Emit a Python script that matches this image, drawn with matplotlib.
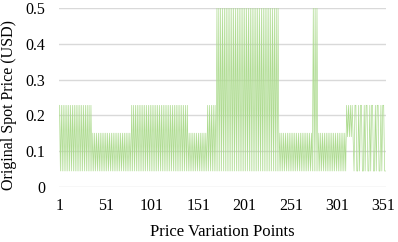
import numpy as np
import matplotlib
matplotlib.use("Agg")
import matplotlib.pyplot as plt

plt.rcParams['font.family'] = ['Liberation Serif', 'DejaVu Serif']

seg1 = [.228,.044,.228,.044,.228,.044,.228,.044,.228,.044,
        .228,.044,.228,.044,.228,.044,.228,.044,.228,.044,
        .228,.044,.228,.044,.228,.044,.228,.044,.228,.044,
        .228,.044,.228,.044,.228]
seg2 = [.044,.15,.044,.15,.044,.15,.044,.15,.044,.15,
        .044,.15,.044,.15,.044,.15,.044,.15,.044,.15,
        .044,.15,.044,.15,.044,.15,.044,.15,.044,.15,
        .044,.15,.044,.15,.044,.15,.044,.15,.044,.15,
        .044,.15]
seg3 = [.044,.228,.044,.228,.044,.228,.044,.228,.044,.228,
        .044,.228,.044,.228,.044,.228,.044,.228,.044,.228,
        .044,.228,.044,.228,.044,.228,.044,.228,.044,.228,
        .044,.228,.044,.228,.044,.228,.044,.228,.044,.228,
        .044,.228,.044,.228,.044,.228,.044,.228,.044,.228,
        .044,.228,.044,.228,.044,.228,.044,.228,.044,.228,
        .044,.228]
seg4 = [.044,.15,.044,.15,.044,.15,.044,.15,.044,.15,
        .044,.15,.044,.15,.044,.15,.044,.15,.044,.15,
        .044]
seg5 = [.228,.044,.228,.044,.228,.044,.228,.044,.228,.044]
seg6 = [.5,.044,.5,.044,.5,.044,.5,.044,.5,.044,
        .5,.044,.5,.044,.5,.044,.5,.044,.5,.044,
        .5,.044,.5,.044,.5,.044,.5,.044,.5,.044,
        .5,.044,.5,.044,.5,.044,.5,.044,.5,.044,
        .5,.044,.5,.044,.5,.044,.5,.044,.5,.044,
        .5,.044,.5,.044,.5,.044,.5,.044,.5,.044,
        .5,.044,.5,.044,.5,.044,.5]
seg7 = [.044,.15,.044,.15,.044,.15,.044,.15,.044,.15,
        .044,.15,.044,.15,.044,.15,.044,.15,.044,.15,
        .044,.15,.044,.15,.044,.15,.044,.15,.044,.15,
        .044,.15,.044,.15,.044,.15,.044]
seg8 = [.5,.044,.5,.044,.5]
seg9 = [.044,.15,.044,.15,.044,.15,.044,.15,.044,.15,
        .044,.15,.044,.15,.044,.15,.044,.15,.044,.15,
        .044,.15,.044,.15,.044,.15,.044,.15,.044,.15,
        .044]
seg10 = [.228,.14,.228,.14,.228,.14,.228,.14,
         .044,.228,.228,.044,.044,.228,.044,.228,.228,.044,
         .044,.228,.044,.228,.228,.044,.044,.228,.044,.228,
         .228,.044,.044,.228,.044,.228,.228,.044,.044,.228,
         .044,.228,.228,.044,.044]

prices = np.array(seg1 + seg2 + seg3 + seg4 + seg5 + seg6 + seg7 + seg8 + seg9 + seg10)
points = np.arange(1, len(prices) + 1)

x_ticks = [1, 51, 101, 151, 201, 251, 301, 351]
y_ticks = [0, 0.1, 0.2, 0.3, 0.4, 0.5]
y_labels = ['0', '0.1', '0.2', '0.3', '0.4', '0.5']

fig = plt.figure(figsize=(3.98, 2.42), dpi=100)
ax = fig.add_axes([59/398, 1 - 186.7/242, (386 - 59)/398, (186.7 - 8.2)/242])

ax.plot(points, prices, color='#addb8f', linewidth=0.5, zorder=3)

ax.set_xlim(0.5, len(prices) + 0.5)
ax.set_ylim(0, 0.5)
ax.set_xticks(x_ticks)
ax.set_yticks(y_ticks)
ax.set_yticklabels(y_labels)
ax.grid(axis='y', color='#d9d9d9', linewidth=1, zorder=0)
ax.set_axisbelow(True)
for s in ax.spines.values():
    s.set_visible(False)
ax.tick_params(length=0, labelsize=11.5, colors='#000000', pad=8)
ax.tick_params(axis='y', pad=10)
ax.set_xlabel('Price Variation Points', fontsize=12, labelpad=7)
ax.set_ylabel('Original Spot Price (USD)', fontsize=11.5)
ax.yaxis.set_label_coords(-0.127, 0.46)

fig.savefig('out.png', dpi=100)
